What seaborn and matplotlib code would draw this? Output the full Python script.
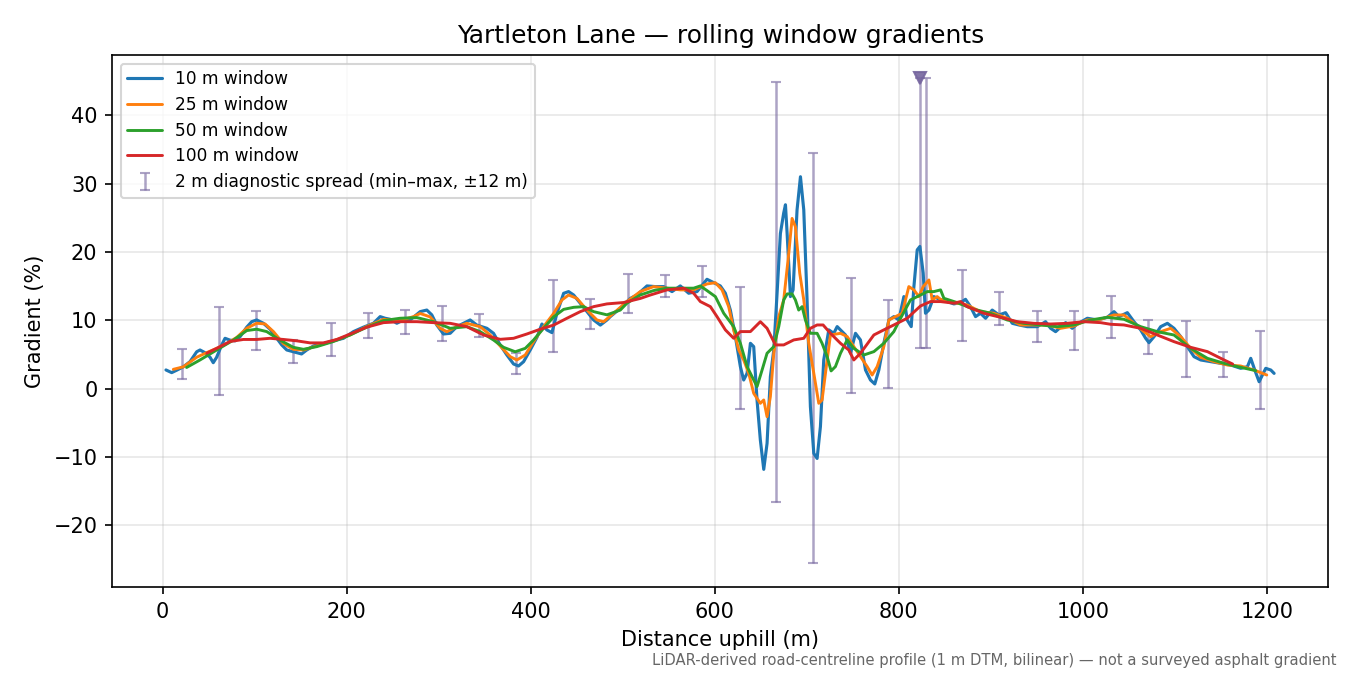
import matplotlib
matplotlib.use("Agg")
import matplotlib.pyplot as plt
import seaborn as sns
import pandas as pd
import numpy as np

# ---- data ----
dist_10 = [3.6, 9.8, 15.2, 22.5, 29.7, 37, 40.6, 46, 51.5, 55, 58.7, 64.2, 67.8, 73.2, 78.7, 84.1,
           91.4, 96.8, 102.2, 109.5, 116.7, 124, 129.4, 134.9, 142, 151, 156.6, 163.9, 174.7, 185.6,
           196.5, 207.4, 218.3, 229.1, 236.4, 241.8, 247.3, 254.5, 261.8, 269, 279.9, 287.1, 292.5,
           298, 305.2, 312.5, 319.7, 327, 334.2, 341.5, 352.4, 359.6, 366.9, 374.1, 381.4, 386.8,
           392.3, 399.5, 406.8, 412.2, 417.6, 423.1, 428.5, 435.8, 441.2, 446.7, 453.9, 461.2, 468.4,
           475.7, 482.9, 486.5, 497.4, 508.2, 515.5, 526.4, 535.4, 544.5, 553.6, 562.6, 571.7, 580.8,
           591.6, 600.7, 606.1, 611.6, 617, 622.5, 627.9, 631.5, 635.2, 638.8, 642.4, 646, 649.6,
           653.3, 656.9, 660.5, 664.2, 667.8, 671.4, 675, 676.9, 678.7, 682.3, 685.2, 689.5, 693.2,
           696.8, 700.4, 704, 707.7, 711.3, 714.9, 718.5, 724, 729.4, 733.1, 736.7, 742.1, 747.6,
           753, 758.4, 763.9, 769.3, 774, 778.4, 783.8, 789.3, 794.7, 800.1, 805.6, 809.2, 813.6,
           816.5, 820.1, 823, 826.6, 829.1, 832.8, 838.2, 845.5, 852.7, 859.9, 867.2, 872.6, 878,
           883.5, 888.9, 894.4, 901.6, 908.9, 916.1, 923.4, 930.6, 939.7, 950.6, 959.6, 965.1, 970.5,
           981.4, 988.6, 994.1, 1005, 1015.8, 1026.7, 1034, 1039.4, 1048.5, 1055.7, 1063, 1068.4,
           1072, 1077.5, 1084.7, 1092, 1099.2, 1106.5, 1113.7, 1121, 1128.2, 1139.1, 1150, 1160.9,
           1171.7, 1179, 1182.6, 1187, 1191.7, 1195.3, 1198.9, 1204.4, 1208]
grad_10 = [2.74, 2.35, 2.7, 3.2, 3.95, 5.4, 5.66, 5.27, 4.6, 3.8, 4.6, 6.4, 7.37, 7.1, 7.0, 7.6,
           9.0, 9.8, 10.05, 9.57, 8.7, 7.37, 6.4, 5.66, 5.4, 5.08, 5.66, 6.25, 6.6, 7.0,
           7.37, 8.35, 9.0, 9.57, 10.54, 10.3, 10.15, 9.57, 10.05, 10.05, 11.27, 11.5, 10.8,
           9.3, 8.0, 8.1, 9.07, 9.56, 10.05, 9.3, 8.83, 8.1, 6.39, 4.93, 3.61, 3.32,
           3.95, 5.66, 7.51, 9.46, 8.59, 8.2, 11.0, 13.95, 14.2, 13.7, 12.5, 11.27, 10.05,
           9.3, 10.05, 10.54, 11.76, 13.2, 13.7, 15.03, 14.93, 14.93, 14.2, 15.03, 13.96, 14.2,
           16.0, 15.4, 15.03, 13.96, 11.5, 7.6, 3.23, 1.27, 2.25, 6.64, 6.15, -1.65, -7.5,
           -11.8, -8.0, 1.76, 5.66, 13.96, 22.7, 25.7, 26.9, 22.7, 13.47, 14.45, 26.15, 31.0,
           26.15, 12.98, -2.63, -9.46, -10.2, -5.55, 4.2, 8.6, 8.1, 9.08, 8.6, 7.86, 5.2,
           8.1, 7.13, 2.74, 1.27, 0.69, 2.74, 6.64, 10.05, 10.54, 10.05, 13.47, 10.05, 9.08,
           14.93, 20.3, 20.8, 16.9, 11.03, 11.5, 13.47, 12.98, 12.74, 12.4, 12.59, 13.07, 12.0,
           10.54, 11.03, 10.3, 11.5, 10.78, 11.12, 9.56, 9.32, 9.07, 9.07, 9.8, 8.83, 8.34,
           9.66, 8.83, 9.46, 10.3, 10.05, 10.44, 11.27, 10.54, 11.12, 9.8, 8.59, 7.37,
           6.73, 7.61, 9.07, 9.56, 8.83, 7.61, 6.15, 4.68, 4.2, 3.95, 3.71, 3.46,
           2.98, 3.22, 4.44, 2.73, 1.02, 2.0, 2.98, 2.73, 2.24]

dist_25 = [11.6, 22.5, 37, 47.8, 58.7, 69.6, 80.5, 91.4, 102.2, 111.3, 120.4, 131.2, 142, 153,
           167.5, 185.6, 203.8, 221.9, 240, 258, 272.6, 279.9, 290.7, 301.6, 308.9, 319.7, 330.6,
           345.1, 356, 366.9, 377.8, 385, 394.1, 403.1, 414, 424.9, 434, 441.2, 450.3, 461.2, 472,
           479.3, 490.1, 504.6, 519.1, 533.6, 548.1, 562.6, 577.1, 591.6, 600.7, 608, 615.2, 620.6,
           626.1, 631.5, 637, 642.4, 649.6, 653.3, 656.9, 660.5, 664.2, 669.6, 675, 680.5, 684.1,
           687.7, 692.4, 696.8, 702.2, 707.7, 713.1, 716.7, 722.2, 725.8, 736.7, 744, 751.2, 758.4,
           765.7, 771.1, 776.6, 783.8, 789.3, 796.5, 803.8, 811, 816.5, 821.9, 826.6, 832.8, 836.4,
           841.8, 845.4, 859.9, 874.4, 888.9, 903.4, 917.9, 932.4, 946.9, 961.4, 975.9, 990.4,
           1004.9, 1019.4, 1033.9, 1044.8, 1055.7, 1066.6, 1073.8, 1084.7, 1095.6, 1106.5, 1117.3,
           1128.2, 1142.7, 1157.2, 1171.7, 1186.2, 1200]
grad_25 = [2.83, 3.2, 4.6, 5.27, 5.9, 6.6, 7.5, 8.84, 9.57, 9.47, 8.35, 6.6, 5.76, 5.66,
           6.25, 7.0, 7.86, 9.1, 10.15, 9.96, 10.54, 11.0, 10.5, 8.83, 8.34, 9.07, 9.56,
           9.07, 7.85, 6.24, 4.68, 4.2, 4.93, 6.88, 9.07, 11.0, 12.98, 13.7, 13.2, 11.5, 10.05,
           9.8, 11.03, 12.74, 14.2, 14.93, 14.7, 14.45, 14.45, 15.32, 15.5, 14.45, 12.0, 8.6,
           5.66, 4.2, 2.25, -0.68, -2.14, -1.65, -4.1, -1.16, 5.18, 10.54, 12.98, 19.8, 24.9,
           23.7, 16.9, 12.98, 6.64, 2.25, -2.14, -1.65, 4.2, 7.86, 8.1, 7.62, 6.15, 4.69,
           3.23, 2.0, 3.23, 6.15, 10.05, 10.54, 11.03, 14.93, 14.45, 13.47, 14.93, 15.9, 12.98,
           13.47, 13.07, 12.59, 12.24, 11.27, 11.03, 10.3, 9.32, 9.32, 9.32, 8.83, 9.17,
           10.05, 10.15, 10.78, 10.78, 9.56, 8.34, 7.61, 8.34, 8.83, 7.61, 5.9,
           4.59, 3.95, 3.46, 3.32, 2.73, 2.0]

dist_50 = [26, 40.6, 58.7, 76.8, 91.4, 102.2, 113.1, 127.6, 142, 153, 167.5, 185.6, 203.8, 221.9,
           240, 258, 276.2, 294.4, 312.5, 330.6, 345.1, 359.6, 370.5, 383.2, 394.1, 403.1, 414,
           424.9, 435.8, 446.7, 457.5, 468.4, 482.9, 497.4, 504.6, 519.1, 533.6, 548.1, 562.6,
           577.1, 584.4, 591.6, 600.7, 609.8, 620.6, 627.9, 635.2, 640.6, 646, 651.5, 656.9, 664.2,
           669.6, 675, 678.7, 684.1, 687.7, 691.3, 695, 698.6, 704, 711.3, 716.7, 722.2, 726.5,
           731.2, 736.7, 744, 751.2, 762.1, 773, 783.8, 794.7, 802, 812.8, 823.7, 831, 838.2,
           845.5, 849.1, 863.5, 881.7, 899.8, 917.9, 936, 954.2, 972.3, 990.4, 1008.6, 1026.7,
           1044.8, 1063, 1081.1, 1099.2, 1117.3, 1135.5, 1153.6, 1171.7, 1188]
grad_50 = [3.1, 4.2, 5.66, 7.1, 8.5, 8.7, 8.35, 7.1, 6.05, 5.76, 6.15, 6.9, 7.86, 9.0,
           9.96, 10.3, 10.4, 9.8, 8.83, 9.07, 8.34, 7.12, 6.05, 5.4, 5.9, 7.12, 8.83,
           10.5, 11.6, 11.9, 12.0, 11.27, 10.8, 11.5, 12.5, 13.7, 14.35, 14.7, 14.7,
           14.7, 15.03, 14.35, 13.47, 11.03, 9.08, 6.64, 3.23, 1.76, 0.3, 2.74, 5.18, 6.15,
           9.08, 12.98, 13.86, 13.86, 12.98, 11.5, 12.0, 10.05, 8.1, 8.1, 6.64, 4.7, 2.6,
           3.23, 5.18, 7.13, 5.9, 4.93, 5.42, 6.64, 8.35, 10.3, 12.98, 13.7, 14.2, 14.2,
           14.45, 13.22, 12.59, 11.61, 11.03, 10.05, 9.56, 9.32, 9.07, 9.32, 10.05, 10.44,
           10.15, 9.07, 8.34, 7.85, 5.9, 4.44, 3.71, 3.12, 2.64]

dist_100 = [48, 58.7, 73.2, 87.7, 102.2, 116.7, 131.2, 145.7, 160.2, 174.7, 189.3, 203.8, 221.9,
            240, 258, 276.3, 294.4, 312.5, 330.6, 348.8, 366.9, 381.4, 395.9, 410.4, 424.9, 439.4,
            453.9, 468.4, 482.9, 501, 519.2, 530, 548.1, 566.3, 577.1, 584.4, 595.3, 602.5, 611.6,
            620.6, 627.9, 638.8, 649.6, 656.9, 666, 675, 685.9, 696.8, 704, 711.3, 717.8, 725.8,
            736.7, 745.7, 751.2, 758.4, 773, 783.8, 794.7, 809.2, 823.7, 834.6, 845.5, 860, 867.2,
            874.4, 892.5, 910.7, 928.8, 946.9, 965, 983.2, 1001.3, 1019.4, 1030.3, 1044.8, 1063,
            1081.1, 1099.2, 1117.3, 1135.5, 1153.6, 1163]
grad_100 = [5.2, 5.9, 6.9, 7.2, 7.2, 7.37, 7.2, 7.0, 6.7, 6.7, 7.2, 8.0, 9.0,
            9.66, 9.8, 9.8, 9.66, 9.56, 9.07, 7.85, 7.22, 7.37, 8.0, 8.7, 9.3, 10.3,
            11.27, 12.0, 12.4, 12.6, 13.2, 13.7, 14.45, 14.7, 13.96, 12.74, 12.0, 10.54, 8.6,
            7.37, 8.35, 8.35, 9.8, 8.83, 6.4, 6.4, 7.13, 7.37, 8.83, 9.32, 9.32, 8.1,
            6.64, 5.66, 4.2, 5.18, 7.86, 8.6, 9.32, 10.3, 12.1, 12.74, 12.74, 12.5, 12.74,
            12.0, 11.03, 10.44, 9.8, 9.56, 9.46, 9.56, 9.8, 9.66, 9.42, 9.32, 8.83,
            7.85, 6.88, 6.05, 5.42, 4.2, 3.6]

# 2 m diagnostic spread (min / max within +-12 m)
spread_dist = [20.6, 61.3, 101.5, 141.4, 183.1, 223, 263.6, 303.8, 344, 384, 424.2, 464, 505.8,
               546.3, 586.6, 627.2, 667, 707, 747.6, 788.5, 822.6, 829.5, 869.3, 909.2, 949.8,
               990.1, 1030.3, 1070.6, 1111.9, 1152.2, 1192.4]
spread_lo = [1.47, -0.92, 5.66, 3.8, 4.79, 7.47, 7.96, 7.0, 7.6, 2.15, 5.4, 8.78, 11.0,
             13.37, 13.47, -2.92, -16.6, -25.5, -0.58, 0.15, 5.9, 5.9, 7.03, 9.37, 6.88,
             5.66, 7.46, 5.12, 1.76, 1.76, -3.02]
spread_hi = [5.81, 12.0, 11.37, 7.1, 9.57, 11.1, 11.5, 12.1, 10.93, 5.27, 15.9, 13.07, 16.8,
             16.65, 17.96, 14.8, 44.9, 34.5, 16.25, 12.9, 45.5, 45.4, 17.37, 14.15, 11.37,
             11.37, 13.56, 10.05, 9.9, 5.4, 8.44]

# steepest 2 m point marker
peak_dist = [822.6]
peak_grad = [45.5]

series = [
    ("10 m window", dist_10, grad_10, "#1f77b4", 1.5),
    ("25 m window", dist_25, grad_25, "#ff7f0e", 1.4),
    ("50 m window", dist_50, grad_50, "#2ca02c", 1.4),
    ("100 m window", dist_100, grad_100, "#d62728", 1.4),
]
spread_color = "#76669f"

sns.set_style("ticks", {"text.color": "black", "axes.labelcolor": "black",
                        "xtick.color": "black", "ytick.color": "black",
                        "axes.edgecolor": "black"})
plt.rcParams["font.family"] = ["DejaVu Sans"]

fig, ax = plt.subplots(figsize=(9, 4.5), dpi=150)
fig.subplots_adjust(left=0.083, right=0.984, top=0.9185, bottom=0.1304)

for label, xs, ys, color, lw in series:
    df = pd.DataFrame({"Distance": xs, "Gradient": ys})
    sns.lineplot(data=df, x="Distance", y="Gradient", color=color, lw=lw,
                 label=label, estimator=None, sort=False, ax=ax, zorder=3)

lo = np.array(spread_lo)
hi = np.array(spread_hi)
mid = (lo + hi) / 2
ax.errorbar(spread_dist, mid, yerr=[mid - lo, hi - mid], fmt="none",
            ecolor=spread_color, elinewidth=1.2, capsize=2.5, alpha=0.6,
            zorder=2, label="2 m diagnostic spread (min\u2013max, \u00b112 m)")
ax.plot(peak_dist, peak_grad, marker="v", ms=5.5, ls="none",
        color=spread_color, alpha=0.9, zorder=4)

ax.set_xlim(-55, 1267)
ax.set_ylim(-29.0, 48.8)
ax.grid(True, color="#b0b0b0", alpha=0.3, lw=0.8)
ax.set_axisbelow(True)

ax.set_title("Yartleton Lane \u2014 rolling window gradients", fontsize=12)
ax.set_xlabel("Distance uphill (m)", fontsize=10)
ax.set_ylabel("Gradient (%)", fontsize=10)
ax.tick_params(labelsize=10, length=3.5)
for s in ax.spines.values():
    s.set_linewidth(0.8)

ax.legend(loc="upper left", fontsize=8.2, labelspacing=0.45, frameon=True, framealpha=0.8)

fig.text(0.99, 0.022,
         "LiDAR-derived road-centreline profile (1 m DTM, bilinear) \u2014 not a surveyed asphalt gradient",
         ha="right", va="center", fontsize=7.1, color="0.4")

fig.savefig("out.png", dpi=150)
